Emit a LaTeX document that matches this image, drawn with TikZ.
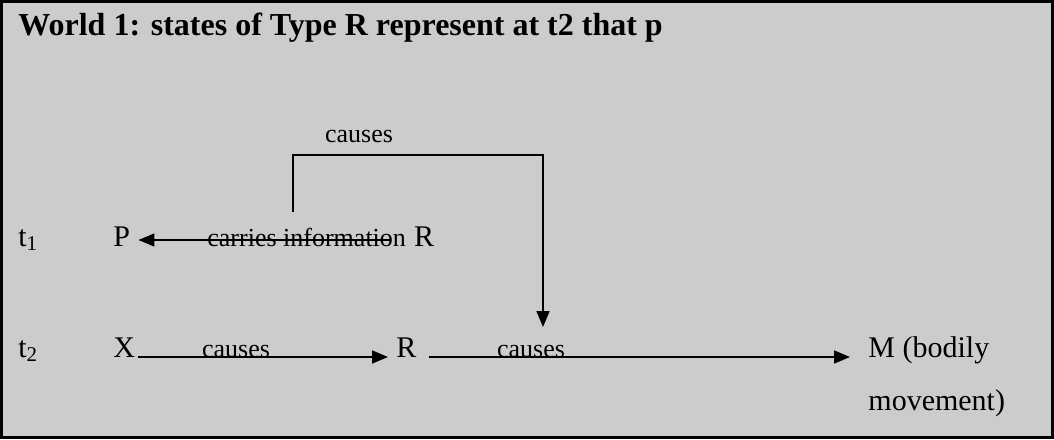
\documentclass[tikz,border=0pt]{standalone}
\usepackage{fontspec}
\setmainfont{Liberation Serif}
\usepackage{xcolor}
\definecolor{panel}{HTML}{CCCCCC}
\usepackage{tikz}
\usetikzlibrary{arrows.meta,positioning,calc}

\begin{document}
\begin{tikzpicture}[x=0.5pt, y=-0.5pt, >={Triangle[length=8pt,width=6.5pt]},
  font=\fontsize{15}{18}\selectfont,
  lbl/.style={inner sep=0pt, anchor=base west},
  cause/.style={inner sep=0pt, anchor=base, font=\fontsize{13}{15}\selectfont},
  link/.style={line width=0.8pt}]

  \useasboundingbox (0,0) rectangle (1054,439);
  \draw[line width=1.5pt, fill=panel] (1.5,1.5) rectangle (1052.5,437.5);

  \node[lbl, font=\fontsize{16}{19}\bfseries] (title) at (18,35)
    {World 1: states of Type R represent at t2 that p};

  % row t1
  \node[lbl] (tone) at (18,246) {t\textsubscript{1}};
  \node[lbl] (P) at (113,246) {P};
  \node[lbl, font=\fontsize{13}{15}\selectfont] (info) at (207,246) {carries information};
  \node[lbl] (Rone) at (info.base east) {\ R};
  \coordinate (infoend) at (390,240);
  \draw[->, link, shorten >=4pt] (infoend) -- (P.east |- infoend);

  % row t2
  \node[lbl] (ttwo) at (18,357) {t\textsubscript{2}};
  \node[lbl] (X) at (113,357) {X};
  \node[lbl] (Rtwo) at (396,357) {R};
  \node[lbl] (M) at (868,357) {M (bodily};
  \node[lbl] (Mmove) at (868,410) {movement)};

  \draw[->, link, shorten >=4pt] (X.base east) ++(3,0) coordinate (xs) -- (Rtwo.west |- xs);
  \node[cause] (causesA) at (236,357) {causes};
  \draw[->, link, shorten >=9pt] (Rtwo.base east) ++(12,0) coordinate (rs) -- (M.west |- rs);
  \node[cause] (causesB) at (531,357) {causes};

  % bracket from R at t1 to the R -> M link
  \coordinate (brstart) at (293,212);
  \coordinate (brend) at (543,327);
  \draw[->, link] (brstart) |- (543,155) -- (brend);
  \node[cause] (causesC) at (359,142) {causes};

\end{tikzpicture}
\end{document}
